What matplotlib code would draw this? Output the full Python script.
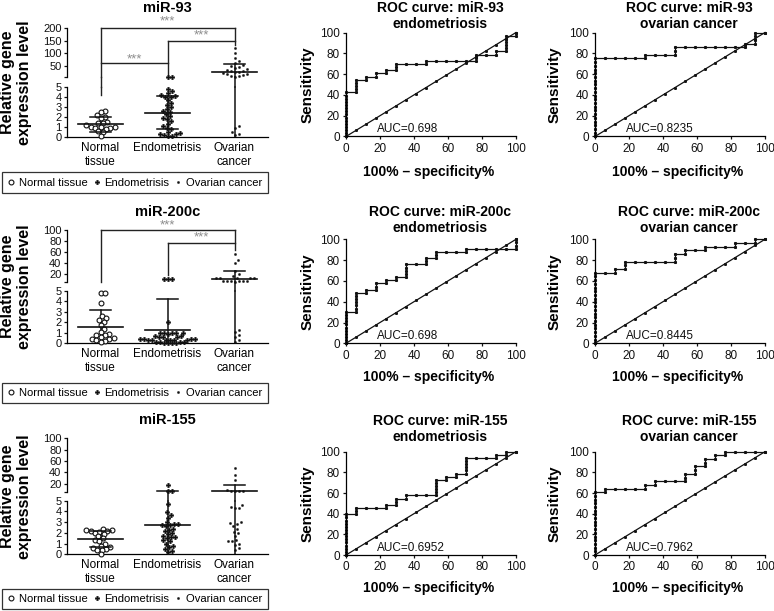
import numpy as np
import matplotlib
matplotlib.use('Agg')
import matplotlib.pyplot as plt
from matplotlib.lines import Line2D
from matplotlib.patches import Rectangle

plt.rcParams['font.family'] = ['Liberation Sans', 'DejaVu Sans']
plt.rcParams['axes.linewidth'] = 0.9

# ---------------- data ----------------
groups = ['Normal tissue', 'Endometrisis', 'Ovarian cancer']
group_ticklabels = ['Normal\ntissue', 'Endometrisis', 'Ovarian\ncancer']
mirnas = ['miR-93', 'miR-200c', 'miR-155']

mir93_normal = [2.6, 2.5, 2.2, 2.0, 1.9, 1.5, 1.4, 1.4, 1.2, 1.0, 1.0, 1.0, 0.9, 0.9, 0.8, 0.6, 0.5, 0.1]
mir93_endo = [5.8, 5.8, 4.8, 4.6, 4.4, 4.2, 4.1, 4.0, 4.0, 3.7, 3.4, 3.2, 3.0, 2.8, 2.6, 2.5, 2.3,
              2.1, 1.9, 1.8, 1.6, 1.3, 1.1, 0.9, 0.8, 0.5, 0.4, 0.3, 0.3, 0.2, 0.1, 0.1]
mir93_ovarian = [120, 100, 80, 70, 62, 55, 50, 45, 42, 38, 35, 32, 30, 28, 25, 22, 20, 18, 15, 12,
                 10, 8, 1.1, 0.9, 0.5, 0.3, 0.2]
mir93_mean = [1.27, 2.43, 27.6]
mir93_sd = [0.70, 1.62, 29.0]

mir200c_normal = [4.8, 4.8, 3.8, 2.6, 2.4, 2.2, 2.0, 1.7, 1.4, 1.1, 0.9, 0.8, 0.8, 0.6, 0.5, 0.4,
                  0.4, 0.3, 0.2, 0.1]
mir200c_endo = [11, 11, 11, 2.0, 1.0, 1.0, 1.0, 1.0, 1.0, 0.9, 0.65, 0.65, 0.62, 0.62, 0.6,
                0.4, 0.4, 0.38, 0.38, 0.36, 0.36, 0.35, 0.35, 0.34, 0.34,
                0.1, 0.1, 0.08, 0.08, 0.0, 0.0, 0.0, 0.0]
mir200c_ovarian = [57, 45, 40, 26, 20, 16, 13, 13, 12, 12, 12, 7, 7, 7, 7, 7, 6.5, 6,
                   1.3, 1.1, 0.8, 0.6, 0.3, 0.1]
mir200c_mean = [1.58, 1.27, 11.5]
mir200c_sd = [1.58, 2.90, 14.5]

mir155_normal = [2.4, 2.3, 2.3, 2.2, 2.2, 2.1, 2.0, 1.9, 1.7, 1.5, 1.3, 1.2, 1.0, 0.8, 0.7, 0.6,
                 0.5, 0.4, 0.4, 0.0]
mir155_endo = [18, 7, 7, 4.7, 3.9, 3.7, 3.4, 3.0, 2.8, 2.8, 2.7, 2.7, 2.6, 2.4, 2.3, 2.2, 2.0,
               1.9, 1.7, 1.6, 1.6, 1.5, 1.3, 1.2, 1.0, 0.8, 0.7, 0.5, 0.3, 0.2]
mir155_ovarian = [47, 35, 26, 8, 7.5, 7, 7, 6.5, 4.6, 4.4, 4.3, 4.3, 3.0, 2.9, 2.8, 2.6, 2.4,
                  2.1, 2.0, 1.7, 1.3, 1.2, 1.2, 1.0, 0.9, 0.6, 0.4]
mir155_mean = [1.43, 2.73, 7.1]
mir155_sd = [0.76, 4.30, 10.6]

top_max = [200, 100, 100]
top_ticks = [[5, 50, 100, 150, 200], [5, 20, 40, 60, 80, 100], [5, 20, 40, 60, 80, 100]]

# significance brackets: (x_from, x_to, level), legs (x, y_from, y_to), stars (x, y)
mir93_bars = [(0, 1, 60), (1, 2, 150), (0, 2, 200)]
mir93_legs = [(0, 4.2, 200), (1, 8, 150), (2, 133, 200)]
mir93_stars = [(0.5, 76), (1.5, 172), (1.0, 225)]
mir200c_bars = [(0, 2, 100), (1, 2, 76)]
mir200c_legs = [(0, 6, 100), (2, 64, 100), (1, 18, 76)]
mir200c_stars = [(1.0, 108), (1.5, 86)]

# ROC step curves: at fpr[i] the curve rises to tpr[i], then runs flat to fpr[i+1]
n_controls = 17
n_endo = 33
n_ovarian = 28
roc93_endo_fpr = [0, 5.9, 11.8, 17.6, 23.5, 29.4, 47.1, 76.5, 88.2, 94.1, 100]
roc93_endo_tpr = [42.4, 54.5, 57.6, 60.6, 63.6, 69.7, 72.7, 78.8, 81.8, 97.0, 100]
roc93_ov_fpr = [0, 29.4, 47.1, 88.2, 94.1, 100]
roc93_ov_tpr = [75.0, 78.6, 85.7, 89.3, 100, 100]
roc200c_endo_fpr = [0, 5.9, 11.8, 17.6, 23.5, 29.4, 35.3, 47.1, 52.9, 70.6, 100]
roc200c_endo_tpr = [30.3, 48.5, 51.5, 57.6, 60.6, 63.6, 75.8, 81.8, 87.9, 90.9, 100]
roc200c_ov_fpr = [0, 11.8, 17.6, 47.1, 52.9, 64.7, 82.4, 94.1, 100]
roc200c_ov_tpr = [67.9, 71.4, 78.6, 85.7, 89.3, 92.9, 96.4, 100, 100]
roc155_endo_fpr = [0, 5.9, 23.5, 29.4, 35.3, 52.9, 58.8, 64.7, 70.6, 88.2, 94.1, 100]
roc155_endo_tpr = [39.4, 45.5, 48.5, 54.5, 57.6, 72.7, 75.8, 78.8, 93.9, 97.0, 100, 100]
roc155_ov_fpr = [0, 5.9, 29.4, 35.3, 52.9, 58.8, 64.7, 70.6, 76.5, 100]
roc155_ov_tpr = [60.7, 64.3, 67.9, 71.4, 78.6, 85.7, 92.9, 96.4, 100, 100]
auc_labels = [['AUC=0.698', 'AUC=0.8235'], ['AUC=0.698', 'AUC=0.8445'], ['AUC=0.6952', 'AUC=0.7962']]

# ---------------- layout ----------------
W, H = 774, 611
fig = plt.figure(figsize=(W / 100, H / 100), dpi=100)
INK = '#111111'


def add_ax(x0, y0, x1, y1):
    return fig.add_axes([x0 / W, 1 - y1 / H, (x1 - x0) / W, (y1 - y0) / H])


def ftext(xp, yp, s, **kw):
    return fig.text(xp / W, 1 - yp / H, s, **kw)


def to_fig(ax, x, y):
    return fig.transFigure.inverted().transform(ax.transData.transform((x, y)))


def vline(axb, axt, x, y0, y1, lw=1.0, color=INK):
    lo = axt.get_ylim()[0]
    if y1 <= 5:
        axb.plot([x, x], [y0, y1], color=color, lw=lw, clip_on=False)
    elif y0 >= lo:
        axt.plot([x, x], [y0, y1], color=color, lw=lw, clip_on=False)
    else:
        axb.plot([x, x], [y0, 5], color=color, lw=lw, clip_on=False)
        axt.plot([x, x], [lo, y1], color=color, lw=lw, clip_on=False)
        p0 = to_fig(axb, x, 5)
        p1 = to_fig(axt, x, lo)
        fig.add_artist(Line2D([p0[0], p1[0]], [p0[1], p1[1]], transform=fig.transFigure,
                              color=color, lw=lw))


def swarm(ypix, d):
    res = np.zeros(len(ypix))
    placed = []
    order = np.argsort(ypix)
    step = d / 4.0
    cands = [0.0]
    for k in range(1, 120):
        cands += [k * step, -k * step]
    for i in order:
        y = ypix[i]
        for dx in cands:
            ok = True
            for (px, py) in placed:
                if (px - dx) ** 2 + (py - y) ** 2 < d * d:
                    ok = False
                    break
            if ok:
                res[i] = dx
                placed.append((dx, y))
                break
    return res


marker_styles = [dict(marker='o', mfc='white', mec=INK, ms=3.5, mew=0.8),
                 dict(marker='P', mfc=INK, mec=INK, ms=3.4, mew=0.2),
                 dict(marker='o', mfc=INK, mec=INK, ms=1.7, mew=0.2)]

scatter_layout = [
    dict(top=(28, 77.4), bot=(86.7, 137.3), title_y=8, leg=(172, 193.3)),
    dict(top=(230, 282.25), bot=(290.7, 343.3), title_y=212, leg=(382.7, 403.3)),
    dict(top=(438.3, 492.2), bot=(500.7, 554.3), title_y=420, leg=(589.3, 609.3)),
]
scatter_data = [
    ([mir93_normal, mir93_endo, mir93_ovarian], mir93_mean, mir93_sd, mir93_bars, mir93_legs, mir93_stars),
    ([mir200c_normal, mir200c_endo, mir200c_ovarian], mir200c_mean, mir200c_sd, mir200c_bars, mir200c_legs, mir200c_stars),
    ([mir155_normal, mir155_endo, mir155_ovarian], mir155_mean, mir155_sd, [], [], []),
]
swarm_d = [4.4, 4.0, 4.0]

SX0, SX1 = 67, 268
for r in range(3):
    lay = scatter_layout[r]
    data, means, sds, bars, legs, stars = scatter_data[r]
    axt = add_ax(SX0, lay['top'][0], SX1, lay['top'][1])
    axb = add_ax(SX0, lay['bot'][0], SX1, lay['bot'][1])
    for ax in (axt, axb):
        ax.set_xlim(-0.5, 2.5)
        ax.spines['top'].set_visible(False)
        ax.spines['right'].set_visible(False)
        ax.patch.set_alpha(0)
        ax.tick_params(axis='y', labelsize=8, length=2.5, width=0.9, pad=1.5, colors=INK)
    axt.spines['bottom'].set_visible(False)
    axt.set_xticks([])
    axb.set_ylim(0, 5)
    axb.set_yticks(range(6))
    axt.set_ylim(5, top_max[r])
    axt.set_yticks(top_ticks[r])
    axt.set_yticklabels([''] + [str(t) for t in top_ticks[r][1:]])
    axb.set_xticks(range(3))
    axb.set_xticklabels(group_ticklabels, fontsize=8.5)
    axb.tick_params(axis='x', length=0, pad=3.5)

    px_per_unit = (SX1 - SX0) / 3.0
    for g in range(3):
        vals = np.array(data[g], dtype=float)
        ypix = np.array([(axb if v <= 5 else axt).transData.transform((g, v))[1] for v in vals])
        dx = swarm(ypix, swarm_d[g]) / px_per_unit
        lowm = vals <= 5
        axb.plot(g + dx[lowm], vals[lowm], ls='none', clip_on=False, zorder=3, **marker_styles[g])
        axt.plot(g + dx[~lowm], vals[~lowm], ls='none', clip_on=False, zorder=3, **marker_styles[g])
        m, s = means[g], sds[g]
        axm = axb if m <= 5 else axt
        axm.plot([g - 0.33, g + 0.33], [m, m], color=INK, lw=1.2, clip_on=False, zorder=4)
        up = m + s
        axu = axb if up <= 5 else axt
        axu.plot([g - 0.16, g + 0.16], [up, up], color=INK, lw=1.1, clip_on=False, zorder=4)
        lo = m - s
        if lo > 0.02:
            axl = axb if lo <= 5 else axt
            axl.plot([g - 0.16, g + 0.16], [lo, lo], color=INK, lw=1.1, clip_on=False, zorder=4)
        vline(axb, axt, g, max(lo, 0), up, lw=1.1)

    for (xa, xb, lev) in bars:
        axt.plot([xa, xb], [lev, lev], color='#222222', lw=1.0, clip_on=False)
    for (xg, ya, yb) in legs:
        vline(axb, axt, xg, ya, yb, lw=1.0, color='#222222')
    for (xs, ys) in stars:
        axt.text(xs, ys, '***', ha='center', va='center', fontsize=9.5, color='#8c8c8c',
                 clip_on=False)

    ftext((SX0 + SX1) / 2, lay['title_y'], mirnas[r], ha='center', va='center',
          fontsize=10.5, fontweight='bold')
    ycen = (lay['top'][0] + lay['bot'][1]) / 2
    ftext(16, ycen, 'Relative gene\nexpression level', rotation=90, ha='center', va='center',
          fontsize=11.5, fontweight='bold', linespacing=1.1)

    l0, l1 = lay['leg']
    fig.add_artist(Rectangle((2 / W, 1 - l1 / H), 266 / W, (l1 - l0) / H,
                             transform=fig.transFigure, fill=False, lw=0.9, ec='#333333'))
    handles = [Line2D([], [], ls='none', **marker_styles[k]) for k in range(3)]
    fig.legend(handles, groups, loc='center',
               bbox_to_anchor=(135 / W, 1 - (l0 + l1) / 2 / H),
               ncol=3, fontsize=8.1, frameon=False, handlelength=0.6, handletextpad=0.4,
               borderpad=0, borderaxespad=0, columnspacing=0.45)

# ---------------- ROC panels ----------------
roc_sets = [
    [(roc93_endo_fpr, roc93_endo_tpr, n_endo, 'endometriosis'), (roc93_ov_fpr, roc93_ov_tpr, n_ovarian, 'ovarian cancer')],
    [(roc200c_endo_fpr, roc200c_endo_tpr, n_endo, 'endometriosis'), (roc200c_ov_fpr, roc200c_ov_tpr, n_ovarian, 'ovarian cancer')],
    [(roc155_endo_fpr, roc155_endo_tpr, n_endo, 'endometriosis'), (roc155_ov_fpr, roc155_ov_tpr, n_ovarian, 'ovarian cancer')],
]
roc_rows_y = [(32.5, 136.5, 16, 172), (239.3, 343.3, 220, 377), (451.7, 555, 429, 588)]
roc_cols_x = [(346, 516, 308), (595, 765, 555)]


def roc_points(fpr, tpr, npos, nneg):
    vx, vy = [0.0], [0.0]
    mx, my = [0.0], [0.0]
    cur_y = 0.0
    for i in range(len(fpr)):
        x = fpr[i]
        k = int(round((tpr[i] - cur_y) / (100.0 / npos)))
        if k > 0:
            ys = np.linspace(cur_y, tpr[i], k + 1)[1:]
            mx += [x] * k
            my += list(ys)
        vx.append(x)
        vy.append(tpr[i])
        cur_y = tpr[i]
        if i + 1 < len(fpr):
            x2 = fpr[i + 1]
            k = int(round((x2 - x) / (100.0 / nneg)))
            if k > 0:
                xs = np.linspace(x, x2, k + 1)[1:]
                mx += list(xs)
                my += [cur_y] * k
            vx.append(x2)
            vy.append(cur_y)
    return vx, vy, mx, my


for r in range(3):
    y0, y1, ty, xly = roc_rows_y[r]
    for c in range(2):
        x0, x1, slx = roc_cols_x[c]
        fpr, tpr, npos, label = roc_sets[r][c]
        ax = add_ax(x0, y0, x1, y1)
        ax.set_xlim(0, 100)
        ax.set_ylim(0, 100)
        ax.spines['top'].set_visible(False)
        ax.spines['right'].set_visible(False)
        ax.patch.set_alpha(0)
        ax.set_xticks([0, 20, 40, 60, 80, 100])
        ax.set_yticks([0, 20, 40, 60, 80, 100])
        ax.tick_params(labelsize=8.5, length=2.5, width=0.9, pad=2, colors=INK)
        diag = np.arange(n_controls + 1) * 100.0 / n_controls
        ax.plot([0, 100], [0, 100], color=INK, lw=0.9, clip_on=False)
        ax.plot(diag, diag, ls='none', marker='s', ms=1.1, color=INK, clip_on=False)
        vx, vy, mx, my = roc_points(fpr, tpr, npos, n_controls)
        ax.plot(vx, vy, color=INK, lw=0.9, clip_on=False)
        ax.plot(mx, my, ls='none', marker='s', ms=1.2, color=INK, clip_on=False)
        ax.text(18, 7, auc_labels[r][c], ha='left', va='center', fontsize=8.5, color=INK)
        ftext((x0 + x1) / 2 + 9, ty, 'ROC curve: %s\n%s' % (mirnas[r], label), ha='center',
              va='center', fontsize=10, fontweight='bold', linespacing=1.15)
        ftext((x0 + x1) / 2 - 2, xly, '100% \u2013 specificity%', ha='center', va='center',
              fontsize=10, fontweight='bold')
        ftext(slx, (y0 + y1) / 2, 'Sensitivity', rotation=90, ha='center', va='center',
              fontsize=11, fontweight='bold')

fig.savefig('out.png', dpi=100)
